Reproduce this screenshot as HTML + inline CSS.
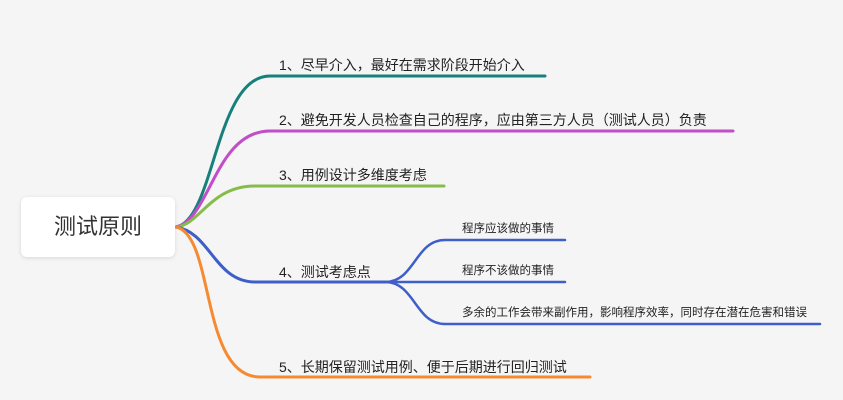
<!DOCTYPE html>
<html><head><meta charset="utf-8"><style>
body{margin:0;width:843px;height:400px;background:#f5f5f5;overflow:hidden;position:relative;font-family:"Liberation Sans","Noto Sans CJK SC",sans-serif;}
.root{position:absolute;left:21px;top:197px;width:154px;height:60px;background:#fff;border-radius:6px;box-shadow:0 1px 4px rgba(0,0,0,.12);font-size:22px;color:#333;text-align:center;line-height:60px;}
.t{position:absolute;font-size:14px;color:#222;white-space:nowrap;}
.s{position:absolute;font-size:11.5px;color:#222;white-space:nowrap;}
svg{position:absolute;left:0;top:0;}
</style></head><body>
<svg width="843" height="400" fill="none" stroke-width="3" stroke-linecap="round">
<path d="M176 227 C215 220,215 76,270 76 L545 76" stroke="#17807c"/>
<path d="M176 227 C210 220,215 131,270 131 L733 131" stroke="#c14dc9"/>
<path d="M176 227 C200 225,210 186,255 186 L444 186" stroke="#86bc4a"/>
<path d="M176 227 C210 232,215 282,255 282 L385 282" stroke="#3f5fc8"/>
<path d="M385 282 C415 282,415 240,445 240 L565 240" stroke="#3f5fc8" stroke-width="2.5"/>
<path d="M385 282 L565 282" stroke="#3f5fc8" stroke-width="2.5"/>
<path d="M385 282 C415 282,415 324,445 324 L820 324" stroke="#3f5fc8" stroke-width="2.5"/>
<path d="M176 227 C215 235,200 377,260 377 L590 377" stroke="#f58a32"/>
</svg>
<div class="root">测试原则</div>
<div class="t" style="left:279px;top:55px">1、尽早介入，最好在需求阶段开始介入</div>
<div class="t" style="left:279px;top:110px">2、避免开发人员检查自己的程序，应由第三方人员（测试人员）负责</div>
<div class="t" style="left:279px;top:165px">3、用例设计多维度考虑</div>
<div class="t" style="left:279px;top:262px">4、测试考虑点</div>
<div class="t" style="left:279px;top:357px">5、长期保留测试用例、便于后期进行回归测试</div>
<div class="s" style="left:462px;top:220px">程序应该做的事情</div>
<div class="s" style="left:462px;top:262px">程序不该做的事情</div>
<div class="s" style="left:462px;top:304px">多余的工作会带来副作用，影响程序效率，同时存在潜在危害和错误</div>
</body></html>
